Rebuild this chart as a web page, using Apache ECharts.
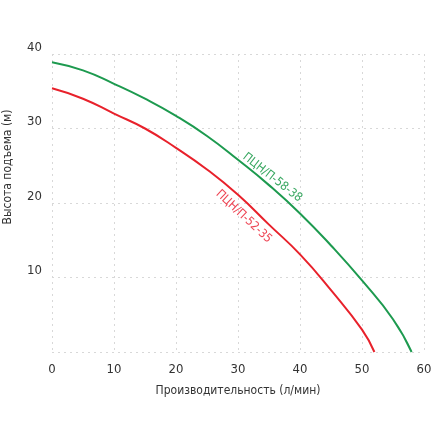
<!DOCTYPE html>
<html>
<head>
<meta charset="utf-8">
<script src="https://cdn.jsdelivr.net/npm/echarts@6/dist/echarts.min.js"></script>
<style>
  html, body { margin: 0; padding: 0; background: #fff; }
  #chart { width: 440px; height: 440px; }
</style>
</head>
<body>
<div id="chart"></div>
<script>
// ПЦН/П-58-38
const greenName = "ПЦН/П-58-38";
const greenFlow = [0, 5, 10, 15, 20, 25, 30, 35, 40, 45, 50, 55, 58];
const greenHead = [38.9, 37.8, 36.0, 34.0, 31.7, 29.0, 25.8, 22.4, 18.6, 14.3, 9.6, 4.4, 0];
// ПЦН/П-52-35
const redName = "ПЦН/П-52-35";
const redFlow = [0, 5, 10, 15, 20, 25, 30, 35, 40, 45, 50, 52];
const redHead = [35.4, 34.0, 32.0, 30.0, 27.4, 24.5, 21.1, 17.1, 13.1, 8.3, 3.0, 0];

const xName = "Производительность (л/мин)";
const yName = "Высота подъема (м)";

const font = "'DejaVu Sans Condensed', 'Liberation Sans Narrow', sans-serif";

function buildData(flow, head, labelAt, label) {
  return flow.map((x, i) => {
    let item = { value: [x, head[i]] };
    if (x === labelAt) {
      item.label = label;
    }
    return item;
  });
}

var myChart = echarts.init(document.getElementById("chart"));
let option = {
  animation: false,
  textStyle: { fontFamily: font },
  grid: { left: 52, right: 16, top: 54, bottom: 88, outerBoundsMode: "none", containLabel: false },
  xAxis: {
    type: "value",
    min: 0,
    max: 60,
    interval: 10,
    name: xName,
    nameLocation: "middle",
    nameGap: 33,
    nameTextStyle: { color: "#333", fontSize: 12, fontFamily: font, verticalAlign: "top" },
    axisLine: { show: false },
    axisTick: { show: false },
    axisLabel: { color: "#333", fontSize: 13, margin: 11, fontFamily: font },
    splitLine: { show: true, lineStyle: { color: "#d8d8d8", type: [2, 4], width: 1 } }
  },
  yAxis: {
    type: "value",
    min: 0,
    max: 40,
    interval: 10,
    name: yName,
    nameLocation: "middle",
    nameGap: 38,
    nameTextStyle: { color: "#333", fontSize: 12, fontFamily: font, padding: [0, 0, 0, 72] },
    axisLine: { show: false },
    axisTick: { show: false },
    axisLabel: { color: "#333", fontSize: 13, margin: 10, showMinLabel: false, verticalAlign: "bottom", fontFamily: font },
    splitLine: { show: true, lineStyle: { color: "#d8d8d8", type: [2, 4], width: 1 } }
  },
  series: [
    {
      name: greenName,
      type: "line",
      smooth: true,
      symbol: "circle",
      symbolSize: 1,
      showSymbol: true,
      lineStyle: { color: "#1d9a4f", width: 2 },
      itemStyle: { color: "rgba(0,0,0,0)" },
      data: buildData(greenFlow, greenHead, 35, {
        show: true,
        formatter: greenName,
        position: "inside",
        rotate: -38,
        offset: [-2, -8],
        color: "#3aa862",
        fontSize: 12,
        fontFamily: font
      })
    },
    {
      name: redName,
      type: "line",
      smooth: true,
      symbol: "circle",
      symbolSize: 1,
      showSymbol: true,
      lineStyle: { color: "#e8212b", width: 2 },
      itemStyle: { color: "rgba(0,0,0,0)" },
      data: buildData(redFlow, redHead, 30, {
        show: true,
        formatter: redName,
        position: "inside",
        rotate: -43,
        offset: [19, 12],
        color: "#ee4655",
        fontSize: 12,
        fontFamily: font
      })
    }
  ]
};
myChart.setOption(option);
</script>
</body>
</html>
